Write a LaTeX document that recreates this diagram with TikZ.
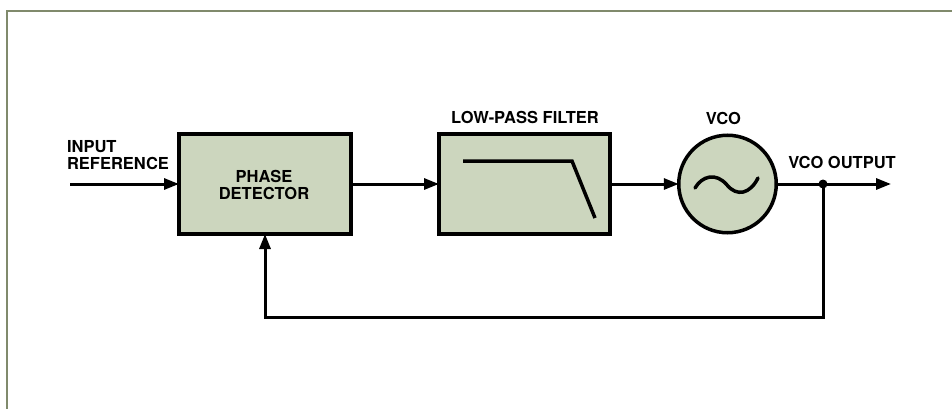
\documentclass[tikz,border=0pt]{standalone}
\usepackage{fontspec}
\setmainfont{TeX Gyre Heros}
\usetikzlibrary{arrows.meta}
\definecolor{boxgreen}{RGB}{204,214,190}
\definecolor{framegreen}{RGB}{128,138,108}
\begin{document}
\begin{tikzpicture}[y=1pt, x=1pt, yscale=-1, inner sep=0pt, outer sep=0pt,
    block/.style={draw=black, fill=boxgreen, line width=4pt},
    lbl/.style={font=\fontsize{16.5}{17.5}\selectfont\bfseries},
    sig/.style={draw=black, line width=3pt, -{Triangle[length=15pt,width=11pt]}}]
  \useasboundingbox (0,0) rectangle (952,409);
  \fill[white] (0,0) rectangle (952,409);
  \draw[framegreen, line width=2pt] (7,409) -- (7,11) -- (952,11);
  % blocks
  \node[block, minimum width=172pt, minimum height=100pt] (phase) at (265,184)
    {};
  \node[lbl, align=center] (phasetext) at (264,185) {PHASE\\DETECTOR};
  \node[block, minimum width=171pt, minimum height=100pt] (lpf) at (524.5,184)
    {};
  \node[block, circle, line width=3.5pt, minimum size=97.5pt] (vco) at (727.5,184) {};
  % labels
  \node[lbl, align=left, anchor=north west] (inlabel) at (67,140)
    {INPUT\\REFERENCE};
  \node[lbl] (lpflabel) at (525,117.5) {LOW-PASS FILTER};
  \node[lbl] (vcolabel) at (723.5,118) {VCO};
  \node[lbl] (outlabel) at (842,162.5) {VCO OUTPUT};
  % filter response and sine
  \draw[line width=3.5pt, line join=miter] (463,161) -- (572,161) -- (595,218);
  \draw[line width=3.5pt, line cap=round] (695,188) .. controls (702,176) and
    (716,172) .. (727,185) .. controls (737,197) and (750,194) .. (758,178);
  % signal path
  \coordinate (infree) at (70,184);
  \coordinate (outfree) at (891,184);
  \coordinate (jn) at (823,184);
  \coordinate (fbcorner) at (265,317);
  \draw[sig] (infree) -- (phase.west);
  \draw[sig] (phase.east) -- (lpf.west);
  \draw[sig] (lpf.east) -- (vco.west);
  \draw[sig] (vco.east) -- (outfree);
  \fill (jn) circle (4.5);
  \draw[sig, line join=miter] (jn) |- (fbcorner) -- (phase.south);
\end{tikzpicture}
\end{document}
